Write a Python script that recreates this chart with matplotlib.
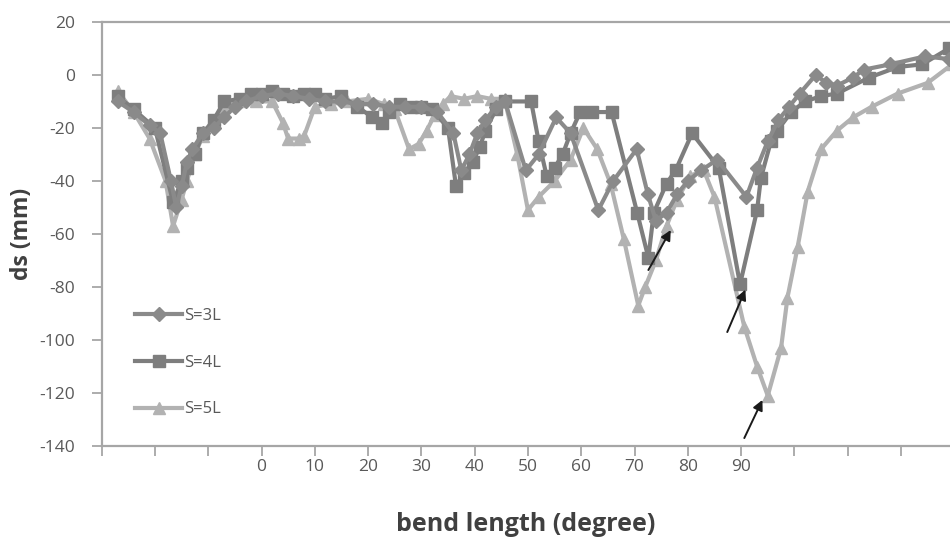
import numpy as np
import matplotlib
matplotlib.use('Agg')
import matplotlib.pyplot as plt

plt.rcParams['font.family'] = ['Open Sans', 'DejaVu Sans']
plt.rcParams['axes.unicode_minus'] = False

# S=3L (diamonds)
x_3l = [-27, -24, -21, -19, -17, -16, -15, -14, -13, -11, -9, -7, -5, -3, 0, 3, 6, 9, 12,
        15, 18, 21, 24, 27, 30, 33, 36, 37.5, 39, 40.5, 42, 44, 45.7, 49.6, 52, 55.3, 58,
        63.2, 66, 70.4, 72.5, 74, 76, 78, 80, 82.5, 85.5, 91, 93, 95, 97, 99, 101, 104,
        106, 108, 111, 113, 118, 124.5, 129]
y_3l = [-10, -14, -19, -22, -40, -50, -42, -33, -28, -22, -20, -16, -12, -10, -8, -7, -8, -9,
        -10, -10, -11, -11, -12, -12, -12, -14, -22, -36, -30, -22, -17, -12, -10, -36, -30,
        -16, -22, -51, -40, -28, -45, -55, -52, -45, -40, -36, -32, -46, -35, -25, -17, -12,
        -7, 0, -3, -4, -1, 2, 4, 7, 6]

# S=4L (squares)
x_4l = [-27, -24, -20, -16.6, -15, -14, -12.5, -11, -9, -7, -4, -2, 0, 2, 4, 6, 8, 10, 12,
        15, 18, 20.8, 22.6, 24, 26, 28, 30, 32, 35, 36.5, 38, 39.6, 41, 42, 44, 45.7, 50.6,
        52, 53.5, 55, 56.5, 58, 59.8, 62, 65.7, 70.5, 72.6, 73.6, 76, 77.7, 80.8, 85.8,
        89.8, 93, 93.7, 95.6, 96.8, 99.4, 102, 105, 108, 114, 119.4, 124, 129]
y_4l = [-8, -13, -20, -48, -40, -35, -30, -22, -17, -10, -9, -7, -7, -6, -7, -8, -7, -7, -9,
        -8, -12, -16, -18, -14, -11, -12, -12, -13, -20, -42, -37, -33, -27, -21, -13, -10,
        -10, -25, -38, -35, -30, -22, -14, -14, -14, -52, -69, -52, -41, -36, -22, -35, -79,
        -51, -39, -25, -21, -14, -10, -8, -7, -1, 3, 4, 10]

# S=5L (triangles)
x_5l = [-27, -24, -21, -18, -16.6, -15, -14, -12.5, -11, -9, -7, -4, -1, 2, 4, 5, 7, 8, 10,
        13, 16, 20, 23, 25, 27.7, 29.5, 31, 32.5, 34, 35.5, 38, 40.5, 43, 45.6, 48, 50, 52,
        55, 58, 60.4, 63, 65.5, 68, 70.7, 72, 74, 76, 78, 80.5, 83, 85, 90.6, 93, 95, 97.5,
        98.7, 100.6, 102.5, 105, 108, 111, 114.5, 119.4, 125, 129.6]
y_5l = [-6, -14, -24, -40, -57, -47, -40, -30, -23, -18, -12, -10, -10, -10, -18, -24, -24,
        -23, -12, -11, -10, -9, -11, -13, -28, -26, -21, -15, -11, -8, -9, -8, -9, -9, -30,
        -51, -46, -40, -32, -20, -28, -41, -62, -87, -80, -70, -57, -47, -38, -36, -46, -95,
        -110, -121, -103, -84, -65, -44, -28, -21, -16, -12, -7, -3, 4]

# arrows (tail -> head)
arrow_tails = [(72.6, -73.6), (87.4, -97), (90.6, -137)]
arrow_heads = [(76.8, -58.5), (90.8, -81), (94.0, -122.6)]

x_ticks = np.arange(-30, 130, 10)
x_labels = [str(t) if 0 <= t <= 90 else '' for t in x_ticks]

fig = plt.figure(figsize=(9.5, 5.43), dpi=100)
ax = fig.add_axes([0.107, 0.1786, 0.893, 0.781])

ax.plot(x_5l, y_5l, '-^', color='#b2b2b2', lw=3, ms=9, label='S=5L', zorder=2)
ax.plot(x_4l, y_4l, '-s', color='#7e7e7e', lw=3, ms=9, label='S=4L', zorder=3)
ax.plot(x_3l, y_3l, '-D', color='#8a8a8a', lw=3, ms=7, label='S=3L', zorder=4)

for tail, head in zip(arrow_tails, arrow_heads):
    ax.annotate('', xy=head, xytext=tail,
                arrowprops=dict(arrowstyle='-|>', color='#1a1a1a', lw=1.4,
                                mutation_scale=15, shrinkA=0, shrinkB=0),
                zorder=6)

ax.set_xlim(-30, 129.2)
ax.set_ylim(-140, 20)
ax.set_yticks(np.arange(-140, 21, 20))
ax.set_xticks(x_ticks)
ax.set_xticklabels(x_labels)

for side in ['left', 'bottom', 'top']:
    ax.spines[side].set_color('#a6a6a6')
    ax.spines[side].set_linewidth(1.6)
ax.spines['right'].set_visible(False)

ax.tick_params(axis='both', colors='#a6a6a6', labelcolor='#595959', labelsize=12.5,
               length=7, width=1.3, direction='out')
ax.tick_params(axis='x', pad=2)
ax.tick_params(axis='y', pad=12)

ax.set_xlabel('bend length (degree)', fontsize=18, fontweight='bold', color='#404040',
              labelpad=27)
ax.set_ylabel('ds (mm)', fontsize=16.5, fontweight='bold', color='#404040', labelpad=4)

handles, labels = ax.get_legend_handles_labels()
leg = ax.legend(handles[::-1], labels[::-1], loc='lower left', bbox_to_anchor=(0.022, 0.032),
                frameon=False, fontsize=12, labelspacing=1.85, handlelength=2.8,
                handletextpad=0.15)
for t in leg.get_texts():
    t.set_color('#595959')

fig.savefig('out.png', dpi=100)
